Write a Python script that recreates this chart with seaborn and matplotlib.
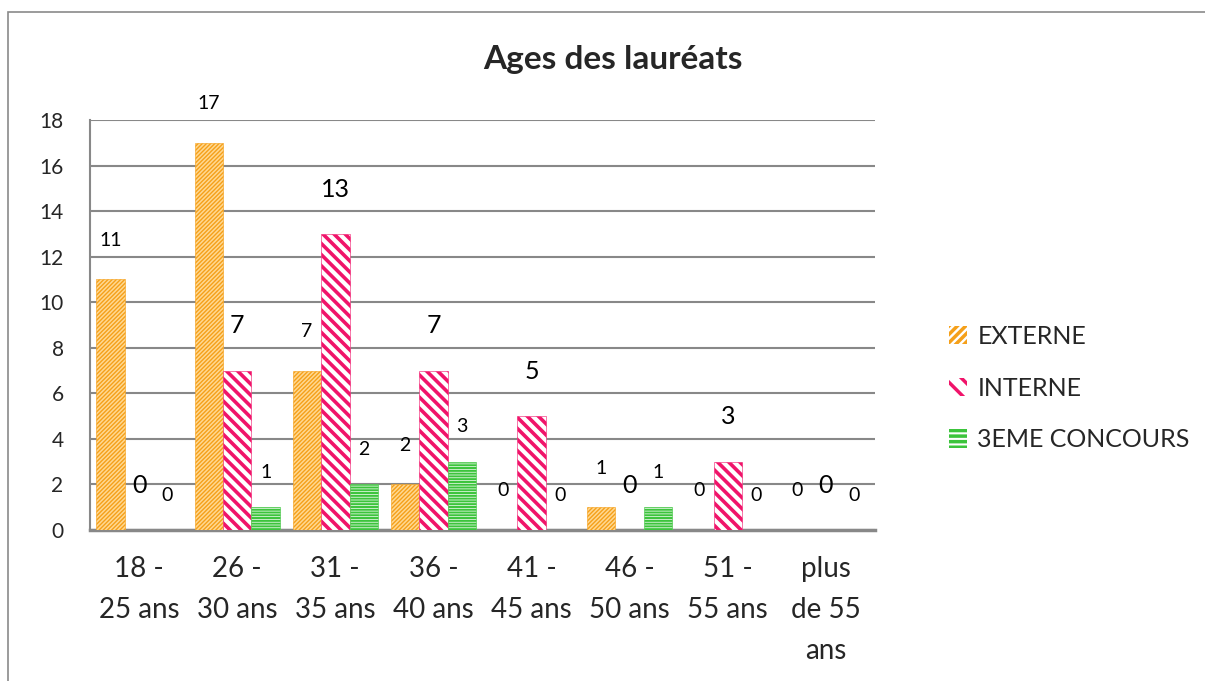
import matplotlib

matplotlib.use("Agg")
import matplotlib.pyplot as plt
import matplotlib.patches as mpatches
import pandas as pd
import seaborn as sns


AGE_GROUPS = [
    "18 -\n25 ans",
    "26 -\n30 ans",
    "31 -\n35 ans",
    "36 -\n40 ans",
    "41 -\n45 ans",
    "46 -\n50 ans",
    "51 -\n55 ans",
    "plus\nde 55\nans",
]
SERIES = ["EXTERNE", "INTERNE", "3EME CONCOURS"]
EXTERNE = [11, 17, 7, 2, 0, 1, 0, 0]
INTERNE = [0, 7, 13, 7, 5, 0, 3, 0]
TROISIEME = [0, 1, 2, 3, 0, 1, 0, 0]
Y_TICKS = [0, 2, 4, 6, 8, 10, 12, 14, 16, 18]

FILL_COLORS = ["#ffd892", "#ffffff", "#ffffff"]
HATCH_COLORS = ["#f5a01a", "#f0146a", "#3cc43c"]
HATCHES = ["////////", "\\\\\\", "------"]
HATCH_WIDTHS = [1.0, 2.6, 1.5]
LEGEND_HATCHES = ["////", "\\\\", "---"]
LABEL_SIZES = [14, 18, 14]
LABEL_PADS = [22, 24, 19]
GRID_COLOR = "#888888"


def main():
    sns.set_style("white")
    plt.rcParams["font.family"] = ["Lato", "DejaVu Sans"]

    df = pd.DataFrame(
        {
            "age": AGE_GROUPS * 3,
            "count": EXTERNE + INTERNE + TROISIEME,
            "type": [s for s in SERIES for _ in AGE_GROUPS],
        }
    )

    fig = plt.figure(figsize=(12.05, 6.81), dpi=100)
    ax = fig.add_axes([90 / 1205, 1 - 530 / 681, 785 / 1205, 410 / 681])

    sns.barplot(
        data=df,
        x="age",
        y="count",
        hue="type",
        hue_order=SERIES,
        order=AGE_GROUPS,
        palette=FILL_COLORS,
        width=0.87,
        errorbar=None,
        legend=False,
        ax=ax,
    )

    for i, container in enumerate(ax.containers):
        for bar in container:
            bar.set_facecolor(FILL_COLORS[i])
            bar.set_edgecolor(HATCH_COLORS[i])
            bar.set_hatch(HATCHES[i])
            bar.set_linewidth(0.4)
            if hasattr(bar, "set_hatch_linewidth"):
                bar.set_hatch_linewidth(HATCH_WIDTHS[i])
            bar.set_zorder(3)
        ax.bar_label(
            container,
            labels=[f"{v:g}" for v in container.datavalues],
            padding=LABEL_PADS[i],
            fontsize=LABEL_SIZES[i],
            color="black",
        )

    ax.set_xlim(-0.5, len(AGE_GROUPS) - 0.5)
    ax.set_ylim(0, 18)
    ax.set_yticks(Y_TICKS)
    ax.set_xlabel("")
    ax.set_ylabel("")
    ax.tick_params(axis="y", labelsize=15, length=0, pad=19)
    ax.tick_params(axis="x", labelsize=20, length=0, pad=19)
    for lbl in ax.get_xticklabels():
        lbl.set_linespacing(1.7)

    ax.grid(axis="y", color=GRID_COLOR, linewidth=1.5, zorder=0)
    ax.grid(axis="x", visible=False)
    ax.set_axisbelow(True)
    ax.spines[["top", "right"]].set_visible(False)
    ax.spines["left"].set_color(GRID_COLOR)
    ax.spines["left"].set_linewidth(1.5)
    ax.spines["bottom"].set_color(GRID_COLOR)
    ax.spines["bottom"].set_linewidth(2.5)

    handles = [
        mpatches.Patch(
            facecolor="white",
            edgecolor=HATCH_COLORS[i],
            hatch=LEGEND_HATCHES[i],
            linewidth=0,
            label=SERIES[i],
        )
        for i in range(len(SERIES))
    ]
    legend = fig.legend(
        handles=handles,
        loc="center left",
        bbox_to_anchor=(926 / 1205, 1 - 388 / 681),
        frameon=False,
        fontsize=18,
        handlelength=0.75,
        handleheight=0.75,
        handletextpad=0.4,
        labelspacing=1.15,
    )
    for patch in legend.get_patches():
        if hasattr(patch, "set_hatch_linewidth"):
            patch.set_hatch_linewidth(2.5)

    fig.text(
        613 / 1205,
        1 - 60 / 681,
        "Ages des lauréats",
        ha="center",
        va="center",
        fontsize=24,
        fontweight="bold",
    )

    fig.patches.append(
        mpatches.Rectangle(
            (8 / 1205, -0.01),
            1.0,
            1 - 12 / 681 + 0.01,
            transform=fig.transFigure,
            fill=False,
            edgecolor="#8a8a8a",
            linewidth=1.2,
        )
    )

    fig.savefig("out.png", dpi=100)
    plt.close(fig)


if __name__ == "__main__":
    main()
